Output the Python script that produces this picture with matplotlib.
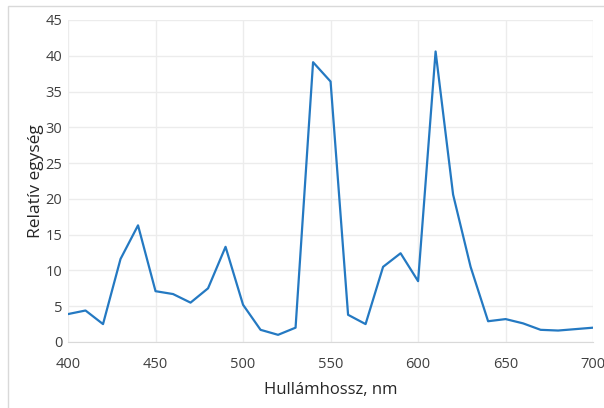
import matplotlib
matplotlib.use("Agg")
import matplotlib.pyplot as plt
from matplotlib.patches import Rectangle

plt.rcParams.update({
    "font.family": ["Open Sans", "DejaVu Sans"],
})

# emission spectrum, sampled every 10 nm
wavelength = [400, 410, 420, 430, 440, 450, 460, 470, 480, 490, 500,
              510, 520, 530, 540, 550, 560, 570, 580, 590, 600,
              610, 620, 630, 640, 650, 660, 670, 680, 690, 700]
intensity = [3.9, 4.4, 2.5, 11.6, 16.3, 7.1, 6.7, 5.5, 7.5, 13.3, 5.2,
             1.7, 1.0, 2.0, 39.1, 36.4, 3.8, 2.5, 10.5, 12.4, 8.5,
             40.6, 20.6, 10.5, 2.9, 3.2, 2.6, 1.7, 1.6, 1.8, 2.0]
xticks = [400, 450, 500, 550, 600, 650, 700]
yticks = [0, 5, 10, 15, 20, 25, 30, 35, 40, 45]

fig = plt.figure(figsize=(6.04, 4.08), dpi=100)
ax = fig.add_axes([0.1126, 0.1618, 0.8694, 0.7892])

# thin outer frame around the chart
fig.patches.append(Rectangle((8 / 604, -0.01), 1.0, 1 - 6 / 408 + 0.01,
                             transform=fig.transFigure, fill=False,
                             edgecolor="#d9d9d9", lw=1.0))

ax.plot(wavelength, intensity, color="#2479c2", lw=1.6, zorder=3)

ax.set_xlim(400, 700)
ax.set_ylim(0, 45)
ax.set_xticks(xticks)
ax.set_yticks(yticks)
ax.grid(True, color="#ececec", lw=1.0)
ax.set_axisbelow(True)
for side in ("top", "right", "left"):
    ax.spines[side].set_visible(False)
ax.spines["bottom"].set_color("#d9d9d9")
ax.tick_params(length=0, labelsize=10.5, colors="#404040")
ax.tick_params(axis="x", pad=11)
ax.tick_params(axis="y", pad=4)

ax.set_xlabel("Hullámhossz, nm", fontsize=12, color="#262626", labelpad=7)
ax.set_ylabel("Relatív egység", fontsize=12.5, color="#262626", labelpad=1)

fig.savefig("out.png", dpi=100)
